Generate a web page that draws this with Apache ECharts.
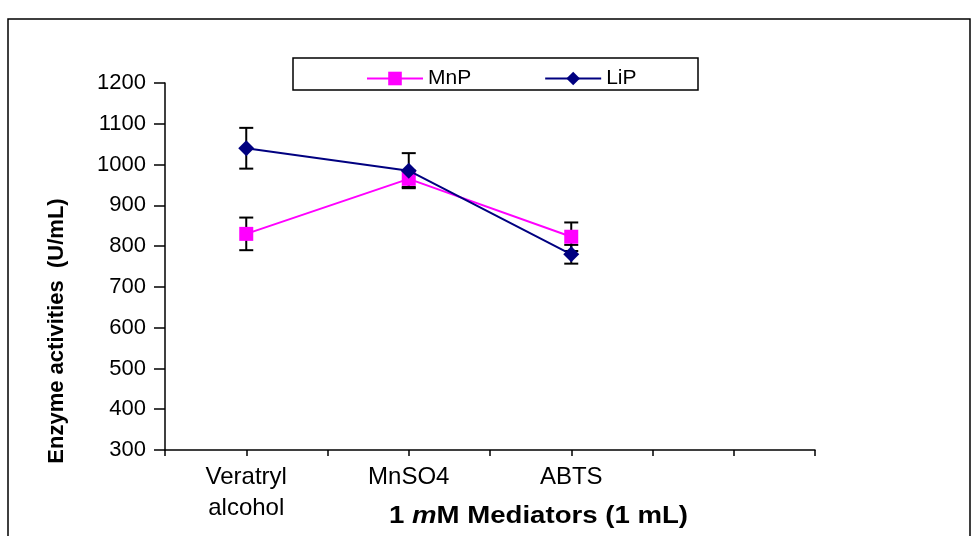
<!DOCTYPE html>
<html>
<head>
<meta charset="utf-8">
<script src="https://cdn.jsdelivr.net/npm/echarts@6/dist/echarts.min.js"></script>
<style>html,body{margin:0;padding:0;background:#fff;}#c{width:972px;height:536px;}</style>
</head>
<body>
<div id="c"></div>
<script>
// Category slots (ticks at every slot; labels only on data slots)
var categories = ['', 'Veratryl\nalcohol', '', 'MnSO4', '', 'ABTS', '', '', ''];
var dataSlots = [1, 3, 5];
var mnpValues = [830, 965, 823];
var mnpErrors = [40, 20, 35];
var lipValues = [1040, 985, 780];
var lipErrors = [50, 43, 23];
var yTicks = [300, 1200, 100]; // min, max, interval

function pairs(vals) { return vals.map(function (v, i) { return [dataSlots[i], v]; }); }
function errData(vals, errs) { return vals.map(function (v, i) { return [dataSlots[i], v - errs[i], v + errs[i]]; }); }

function errRender(params, api) {
  var x = api.value(0);
  var lo = api.coord([x, api.value(1)]);
  var hi = api.coord([x, api.value(2)]);
  var w = 7;
  var st = { stroke: '#000', lineWidth: 2 };
  return {
    type: 'group',
    children: [
      { type: 'line', shape: { x1: lo[0], y1: lo[1], x2: hi[0], y2: hi[1] }, style: st },
      { type: 'line', shape: { x1: lo[0] - w, y1: lo[1], x2: lo[0] + w, y2: lo[1] }, style: st },
      { type: 'line', shape: { x1: hi[0] - w, y1: hi[1], x2: hi[0] + w, y2: hi[1] }, style: st }
    ]
  };
}

var FONT = 'Liberation Sans, Arial, sans-serif';
var chart = echarts.init(document.getElementById('c'), null, { renderer: 'canvas' });
chart.setOption({
  backgroundColor: '#fff',
  animation: false,
  grid: { left: 165, right: 157, top: 83, bottom: 86, containLabel: false },
  legend: {
    top: 63, left: 361,
    itemWidth: 56, itemHeight: 17, itemGap: 73,
    textStyle: { fontFamily: FONT, fontSize: 21, color: '#000', padding: [0, 0, 0, 0] },
    data: ['MnP', 'LiP']
  },
  xAxis: {
    type: 'category',
    data: categories,
    boundaryGap: false,
    axisLine: { lineStyle: { color: '#000', width: 1.5 } },
    axisTick: { show: true, length: 6, lineStyle: { color: '#000', width: 1.5 }, interval: 0 },
    axisLabel: { interval: 0, margin: 12, fontFamily: FONT, fontSize: 24, color: '#000', lineHeight: 31 },
    splitLine: { show: false }
  },
  yAxis: {
    type: 'value',
    min: yTicks[0], max: yTicks[1], interval: yTicks[2],
    axisLine: { show: true, lineStyle: { color: '#000', width: 1.5 } },
    axisTick: { show: true, inside: false, length: 11, lineStyle: { color: '#000', width: 1.5 } },
    axisLabel: { margin: 19, fontFamily: FONT, fontSize: 22, color: '#000', formatter: function (v) { return String(v); } },
    splitLine: { show: false }
  },
  graphic: [
    { type: 'rect', shape: { x: 8, y: 19, width: 962, height: 530 }, style: { fill: 'none', stroke: '#000', lineWidth: 1.5 }, z: -10 },
    { type: 'rect', shape: { x: 293, y: 58, width: 405, height: 32 }, style: { fill: '#fff', stroke: '#000', lineWidth: 1.5 }, z: -5 },
    {
      type: 'text', x: 389, y: 505, scaleX: 1.2,
      style: {
        text: '{a|1 }{b|m}{a|M Mediators (1 mL)}',
        verticalAlign: 'top',
        rich: {
          a: { fontFamily: FONT, fontSize: 23, fontWeight: 'bold', fill: '#000' },
          b: { fontFamily: FONT, fontSize: 23, fontWeight: 'bold', fontStyle: 'italic', fill: '#000' }
        }
      }
    },
    {
      type: 'text', x: 57, y: 331, rotation: Math.PI / 2,
      style: {
        text: 'Enzyme activities  (U/mL)',
        align: 'center', verticalAlign: 'middle',
        fontFamily: FONT, fontSize: 22, fontWeight: 'bold', fill: '#000'
      }
    }
  ],
  series: [
    {
      name: 'MnP-err', type: 'custom', renderItem: errRender, data: errData(mnpValues, mnpErrors),
      encode: { x: 0, y: [1, 2] }, z: 1, silent: true
    },
    {
      name: 'LiP-err', type: 'custom', renderItem: errRender, data: errData(lipValues, lipErrors),
      encode: { x: 0, y: [1, 2] }, z: 1, silent: true
    },
    {
      name: 'MnP', type: 'line', data: pairs(mnpValues), z: 3,
      symbol: 'rect', symbolSize: 14,
      lineStyle: { color: '#FF00FF', width: 2 },
      itemStyle: { color: '#FF00FF' }
    },
    {
      name: 'LiP', type: 'line', data: pairs(lipValues), z: 4,
      symbol: 'diamond', symbolSize: [16, 16],
      lineStyle: { color: '#000080', width: 2 },
      itemStyle: { color: '#000080' }
    }
  ]
});
</script>
</body>
</html>
